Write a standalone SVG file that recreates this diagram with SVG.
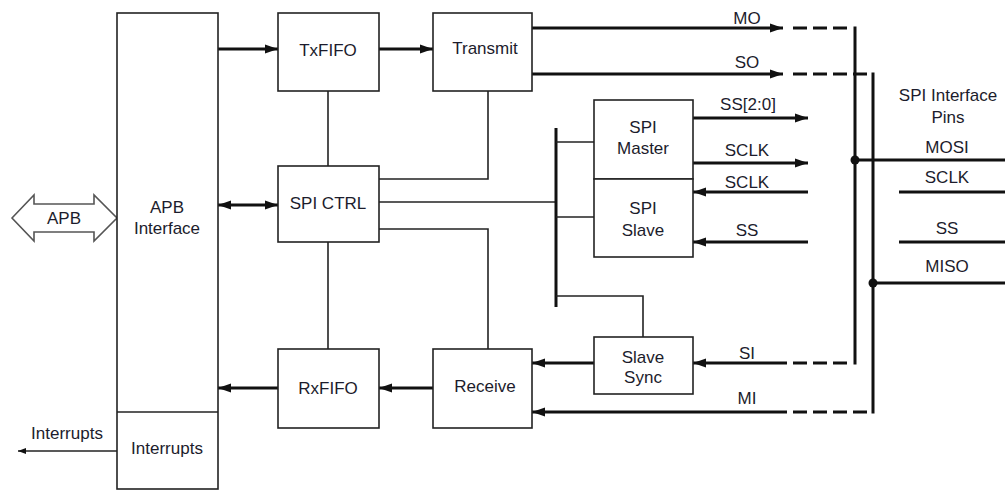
<svg xmlns="http://www.w3.org/2000/svg" width="1005" height="491" viewBox="0 0 1005 491">
<defs>
<marker id="ah" markerUnits="userSpaceOnUse" markerWidth="14" markerHeight="10" refX="13" refY="5" orient="auto-start-reverse"><path d="M0,0.5 L13,5 L0,9.5 z" fill="#111"/></marker>
<marker id="ahs" markerUnits="userSpaceOnUse" markerWidth="9" markerHeight="7" refX="8" refY="3.5" orient="auto"><path d="M0,0.5 L8,3.5 L0,6.5 z" fill="#111"/></marker>
<style>
.box{fill:#fff;stroke:#222;stroke-width:1.6}
.t{font-family:"Liberation Sans",Arial,sans-serif;font-size:17px;fill:#1c1c2c;text-anchor:middle}
.thin{fill:none;stroke:#222;stroke-width:1.6}
.thick{fill:none;stroke:#111;stroke-width:3}
.dash{fill:none;stroke:#111;stroke-width:3;stroke-dasharray:14 6}
</style>
</defs>
<g id="connectors">
<polygon points="12,218 34,195 34,204 94,204 94,195 117,218 94,241 94,232 34,232 34,241" fill="#fff" stroke="#555" stroke-width="1.6"/>
<line class="thick" x1="218" y1="49" x2="278" y2="49" marker-end="url(#ah)"/>
<line class="thick" x1="379" y1="49" x2="433" y2="49" marker-end="url(#ah)"/>
<line class="thick" x1="218" y1="205" x2="278" y2="205" marker-start="url(#ah)" marker-end="url(#ah)"/>
<line class="thick" x1="278" y1="388" x2="218" y2="388" marker-end="url(#ah)"/>
<line class="thick" x1="433" y1="388" x2="379" y2="388" marker-end="url(#ah)"/>
<line class="thick" x1="594" y1="363" x2="532" y2="363" marker-end="url(#ah)"/>
<line class="thin" x1="117" y1="451" x2="18" y2="451" marker-end="url(#ahs)"/>
<line class="thin" x1="328" y1="91" x2="328" y2="166"/>
<line class="thin" x1="328" y1="242" x2="328" y2="349"/>
<polyline class="thin" points="379,179 488,179 488,91"/>
<polyline class="thin" points="379,229 488,229 488,349"/>
<line class="thin" x1="379" y1="202" x2="556" y2="202"/>
<line class="thick" x1="556" y1="128" x2="556" y2="307"/>
<line class="thin" x1="556" y1="142" x2="594" y2="142"/>
<line class="thin" x1="556" y1="217" x2="594" y2="217"/>
<polyline class="thin" points="556,296 643,296 643,337"/>
<line class="thick" x1="532" y1="28" x2="783" y2="28" marker-end="url(#ah)"/>
<line class="thick" x1="532" y1="74" x2="783" y2="74" marker-end="url(#ah)"/>
<line class="dash" x1="793" y1="28" x2="853" y2="28"/>
<line class="dash" x1="793" y1="74" x2="871" y2="74"/>
<line class="thick" x1="855" y1="26.5" x2="855" y2="364.5"/>
<line class="thick" x1="873" y1="72.5" x2="873" y2="413.5"/>
<line class="dash" x1="793" y1="363" x2="853" y2="363"/>
<line class="dash" x1="793" y1="412" x2="871" y2="412"/>
<line class="thick" x1="787" y1="363" x2="693" y2="363" marker-end="url(#ah)"/>
<line class="thick" x1="787" y1="412" x2="532" y2="412" marker-end="url(#ah)"/>
<line class="thick" x1="693" y1="118" x2="808" y2="118" marker-end="url(#ah)"/>
<line class="thick" x1="693" y1="163" x2="808" y2="163" marker-end="url(#ah)"/>
<line class="thick" x1="808" y1="192" x2="693" y2="192" marker-end="url(#ah)"/>
<line class="thick" x1="808" y1="242" x2="693" y2="242" marker-end="url(#ah)"/>
<line class="thick" x1="855" y1="160" x2="1005" y2="160"/>
<line class="thick" x1="899" y1="192" x2="1005" y2="192"/>
<line class="thick" x1="899" y1="242" x2="1005" y2="242"/>
<line class="thick" x1="873" y1="283" x2="1005" y2="283"/>
<circle cx="855" cy="160" r="4.5" fill="#111"/>
<circle cx="873" cy="283" r="4.5" fill="#111"/>
<text class="t" x="67" y="439">Interrupts</text>
<text class="t" x="64" y="224">APB</text>
<text class="t" x="747" y="24">MO</text>
<text class="t" x="747" y="68">SO</text>
<text class="t" x="748" y="110">SS[2:0]</text>
<text class="t" x="747" y="156">SCLK</text>
<text class="t" x="747" y="188">SCLK</text>
<text class="t" x="747" y="236">SS</text>
<text class="t" x="747" y="359">SI</text>
<text class="t" x="747" y="404">MI</text>
<text class="t" x="948" y="101">SPI Interface</text>
<text class="t" x="948" y="123">Pins</text>
<text class="t" x="947" y="153">MOSI</text>
<text class="t" x="947" y="183">SCLK</text>
<text class="t" x="947" y="234">SS</text>
<text class="t" x="947" y="272">MISO</text>
</g>
<g id="apb-interface">
<rect class="box" x="117" y="13" width="101" height="476"/>
<line class="thin" x1="117" y1="412" x2="218" y2="412"/>
<text class="t" x="167" y="213">APB</text>
<text class="t" x="167" y="234">Interface</text>
</g>
<g id="interrupts">
<text class="t" x="167" y="454">Interrupts</text>
</g>
<g id="txfifo">
<rect class="box" x="278" y="13" width="101" height="78"/>
<text class="t" x="328" y="56">TxFIFO</text>
</g>
<g id="transmit">
<rect class="box" x="433" y="13" width="99" height="78"/>
<text class="t" x="485" y="54">Transmit</text>
</g>
<g id="spi-ctrl">
<rect class="box" x="278" y="166" width="101" height="76"/>
<text class="t" x="328" y="209">SPI CTRL</text>
</g>
<g id="spi-master">
<rect class="box" x="594" y="100" width="99" height="79"/>
<text class="t" x="643" y="133">SPI</text>
<text class="t" x="643" y="154">Master</text>
</g>
<g id="spi-slave">
<rect class="box" x="594" y="179" width="99" height="78"/>
<text class="t" x="643" y="214">SPI</text>
<text class="t" x="643" y="236">Slave</text>
</g>
<g id="slave-sync">
<rect class="box" x="594" y="337" width="99" height="57"/>
<text class="t" x="643" y="363">Slave</text>
<text class="t" x="643" y="383">Sync</text>
</g>
<g id="receive">
<rect class="box" x="433" y="349" width="99" height="79"/>
<text class="t" x="485" y="392">Receive</text>
</g>
<g id="rxfifo">
<rect class="box" x="278" y="349" width="101" height="79"/>
<text class="t" x="328" y="394">RxFIFO</text>
</g>
</svg>
